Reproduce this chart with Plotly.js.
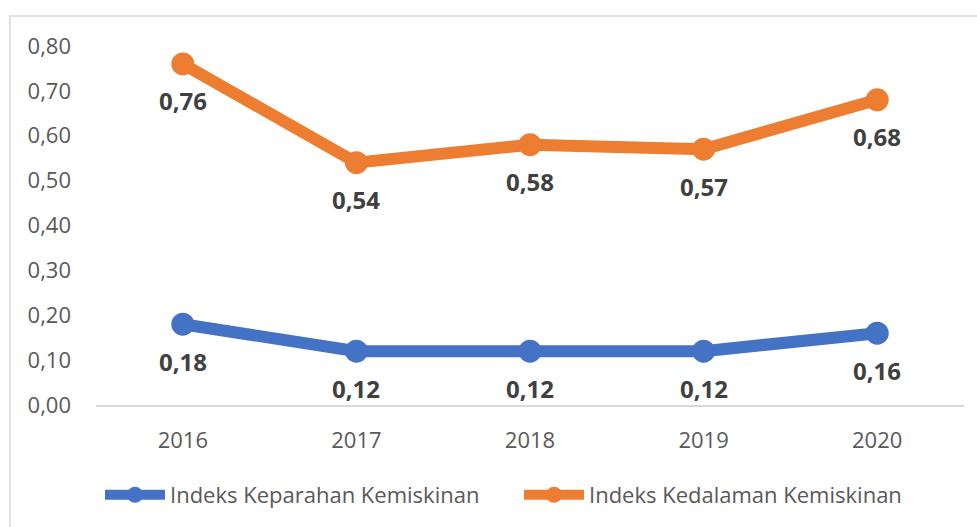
<!DOCTYPE html>
<html>
<head>
<meta charset="utf-8">
<script src="https://cdn.plot.ly/plotly-3.0.1.min.js"></script>
<style>html,body{margin:0;padding:0;background:#fff;}#chart{width:977px;height:527px;}</style>
</head>
<body>
<div id="chart"></div>
<script>
const years = ["2016", "2017", "2018", "2019", "2020"];
const keparahan = [0.18, 0.12, 0.12, 0.12, 0.16];
const kedalaman = [0.76, 0.54, 0.58, 0.57, 0.68];
const seriesNames = ["Indeks Keparahan Kemiskinan", "Indeks Kedalaman Kemiskinan"];
const yTicks = [0, 0.1, 0.2, 0.3, 0.4, 0.5, 0.6, 0.7, 0.8];

const font = '"Open Sans", "Noto Sans", sans-serif';
function series(y, name, color) {
  return {
    x: years, y: y, name: name, type: 'scatter', mode: 'lines+markers',
    line: {color: color, width: 12},
    marker: {color: color, size: 23},
    cliponaxis: false, hoverinfo: 'skip'
  };
}
const data = [
  series(keparahan, seriesNames[0], '#4472C4'),
  series(kedalaman, seriesNames[1], '#ED7D31')
];
const fmt = v => v.toFixed(2).replace('.', ',');
const annotations = [];
[keparahan, kedalaman].forEach(arr => arr.forEach((v, i) => {
  annotations.push({x: i, y: v, xref: 'x', yref: 'y', text: '<b>' + fmt(v) + '</b>', showarrow: false,
    yshift: -37, font: {family: font, size: 24, color: '#404040'}});
}));
const L = 96, R = 13, T = 46, B = 121, W = 977, H = 527;
const pw = W - L - R, ph = H - T - B;
const layout = {
  width: W, height: H,
  margin: {l: L, r: R, t: T, b: B, pad: 0},
  paper_bgcolor: '#fff', plot_bgcolor: '#fff',
  separators: ',.',
  font: {family: font, size: 22, color: '#595959'},
  showlegend: true,
  legend: {orientation: 'h', x: (100 - L) / pw, xanchor: 'left', y: (T + ph - 495) / ph, yanchor: 'middle',
           font: {family: font, size: 22, color: '#595959'}, itemwidth: 60, tracegroupgap: 0,
           entrywidth: 344, entrywidthmode: 'pixels'},
  xaxis: {type: 'category', range: [-0.5, 4.5], showgrid: false, zeroline: false, showline: true, linecolor: '#D9D9D9', linewidth: 2,
          ticks: '', ticklabelstandoff: 15, tickfont: {size: 22, color: '#595959'}, fixedrange: true},
  yaxis: {range: [0, 0.8], tickvals: yTicks, tickformat: '.2f', showgrid: false, zeroline: false, showline: false,
          ticks: '', ticklabelstandoff: 24, tickfont: {size: 22, color: '#595959'}, fixedrange: true},
  annotations: annotations,
  shapes: [{type: 'rect', xref: 'paper', yref: 'paper',
            x0: (10 - L) / pw, x1: (W + 20 - L) / pw, y0: (T + ph - (H + 20)) / ph, y1: (T + ph - 16) / ph,
            line: {color: '#D9D9D9', width: 1.5}, fillcolor: 'rgba(0,0,0,0)', layer: 'below'}]
};
Plotly.newPlot('chart', data, layout, {displayModeBar: false, staticPlot: true});
</script>
</body>
</html>
